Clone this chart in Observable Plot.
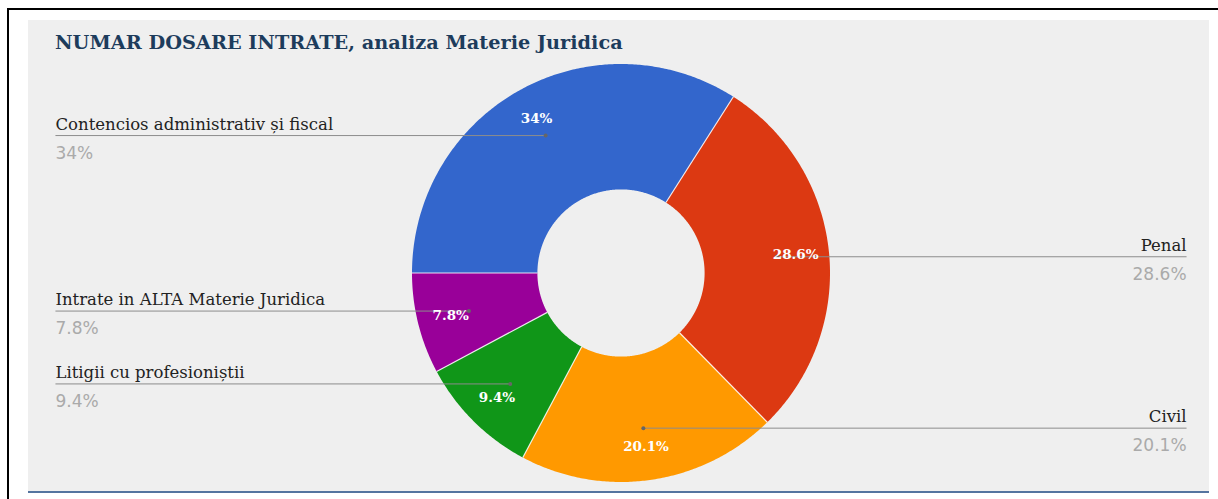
<!DOCTYPE html>
<html>
<head>
<meta charset="utf-8">
<script src="https://cdn.jsdelivr.net/npm/d3@7"></script>
<script src="https://cdn.jsdelivr.net/npm/@observablehq/plot@0.6"></script>
<style>
  html, body { margin: 0; padding: 0; background: #ffffff; overflow: hidden; }
  #frame { position: absolute; left: 7px; top: 8px; width: 1211px; height: 491px;
           border-top: 2px solid #000; border-left: 2px solid #000; box-sizing: border-box; }
  #panel { position: absolute; left: 28px; top: 20px; width: 1181px; height: 471px;
           background: #efefef; border-bottom: 2px solid #54749f; }
  #title { position: absolute; left: 55px; top: 31px; font-family: "DejaVu Serif", serif;
           font-weight: bold; font-size: 19.3px; color: #1d3c5c; white-space: nowrap; }
  #chart { position: absolute; left: 0; top: 0; }
</style>
</head>
<body>
<div id="frame"></div>
<div id="panel"></div>
<div id="chart"></div>
<div id="title">NUMAR DOSARE INTRATE, analiza Materie Juridica</div>
<script>
// ---- data ----
const categories = ["Contencios administrativ și fiscal", "Penal", "Civil", "Litigii cu profesioniștii", "Intrate in ALTA Materie Juridica"];
const values = [34, 28.6, 20.1, 9.4, 7.8];
const valueLabels = ["34%", "28.6%", "20.1%", "9.4%", "7.8%"];
const colors = ["#3366cc", "#dc3912", "#ff9900", "#109618", "#990099"];

// ---- layout ----
const W = 1218, H = 499;
const cx = 620.5, cy = 272.5, R = 209;   // donut centre & radius in px
const innerR = 0.40;                      // hole radius (fraction of R)
const labelR = 0.84, dotR = 0.75;         // in-slice label & leader dot radius
const edge = 2.706;                       // leader end (in radii from centre)
const startAngle = 270;                   // degrees clockwise from north

const total = d3.sum(values);
const rad = a => a * Math.PI / 180;
let acc = startAngle;
const slices = categories.map((c, i) => {
  const a0 = acc, a1 = acc + values[i] / total * 360;
  acc = a1;
  const m = (a0 + a1) / 2;
  const side = Math.sin(rad(m)) < 0 ? -1 : 1;
  return {
    cat: c, label: valueLabels[i], a0, a1, side,
    lx: labelR * Math.sin(rad(m)), ly: labelR * Math.cos(rad(m)),
    dx: dotR * Math.sin(rad(m)), dy: dotR * Math.cos(rad(m)),
    ex: side * edge
  };
});

// slice outlines (outer arc forward, inner arc back, closed)
const pts = [];
for (const s of slices) {
  const n = Math.max(2, Math.ceil((s.a1 - s.a0) / 0.5));
  const ring = [];
  for (let k = 0; k <= n; k++) { const a = s.a0 + (s.a1 - s.a0) * k / n; ring.push([Math.sin(rad(a)), Math.cos(rad(a))]); }
  for (let k = n; k >= 0; k--) { const a = s.a0 + (s.a1 - s.a0) * k / n; ring.push([innerR * Math.sin(rad(a)), innerR * Math.cos(rad(a))]); }
  ring.push(ring[0]);
  for (const [x, y] of ring) pts.push({cat: s.cat, x, y});
}
const bounds = slices.map(s => ({a: s.a0}));

const serif = "DejaVu Serif, serif";
const sans = "DejaVu Sans, sans-serif";
const chart = Plot.plot({
  width: W, height: H,
  margin: 0,
  style: {background: "transparent", overflow: "visible"},
  x: {domain: [-cx / R, (W - cx) / R], range: [0, W], axis: null},
  y: {domain: [-(H - cy) / R, cy / R], range: [H, 0], axis: null},
  color: {domain: categories, range: colors},
  marks: [
    Plot.line(pts, {x: "x", y: "y", z: "cat", fill: "cat", stroke: "none", curve: "linear"}),
    Plot.link(bounds, {
      x1: d => innerR * Math.sin(rad(d.a)), y1: d => innerR * Math.cos(rad(d.a)),
      x2: d => Math.sin(rad(d.a)), y2: d => Math.cos(rad(d.a)),
      stroke: "#ffffff", strokeWidth: 1.2, strokeOpacity: 0.85
    }),
    Plot.link(slices, {x1: "dx", y1: "dy", x2: "ex", y2: "dy", stroke: "#8c8c8c", strokeWidth: 1}),
    Plot.dot(slices, {x: "dx", y: "dy", r: 2, fill: "#666666", stroke: "none"}),
    Plot.text(slices, {x: "lx", y: "ly", text: "label", fill: "#ffffff", fontFamily: serif,
      fontWeight: "bold", fontSize: 13.5}),
    Plot.text(slices.filter(s => s.side < 0), {x: "ex", y: "dy", text: "cat", textAnchor: "start",
      lineAnchor: "bottom", dy: -6, fill: "#222222", fontFamily: serif, fontSize: 16.5}),
    Plot.text(slices.filter(s => s.side > 0), {x: "ex", y: "dy", text: "cat", textAnchor: "end",
      lineAnchor: "bottom", dy: -6, fill: "#222222", fontFamily: serif, fontSize: 16.5}),
    Plot.text(slices.filter(s => s.side < 0), {x: "ex", y: "dy", text: "label", textAnchor: "start",
      lineAnchor: "top", dy: 11, fill: "#aaaaaa", fontFamily: sans, fontSize: 17}),
    Plot.text(slices.filter(s => s.side > 0), {x: "ex", y: "dy", text: "label", textAnchor: "end",
      lineAnchor: "top", dy: 11, fill: "#aaaaaa", fontFamily: sans, fontSize: 17})
  ]
});
document.getElementById("chart").appendChild(chart);
</script>
</body>
</html>
